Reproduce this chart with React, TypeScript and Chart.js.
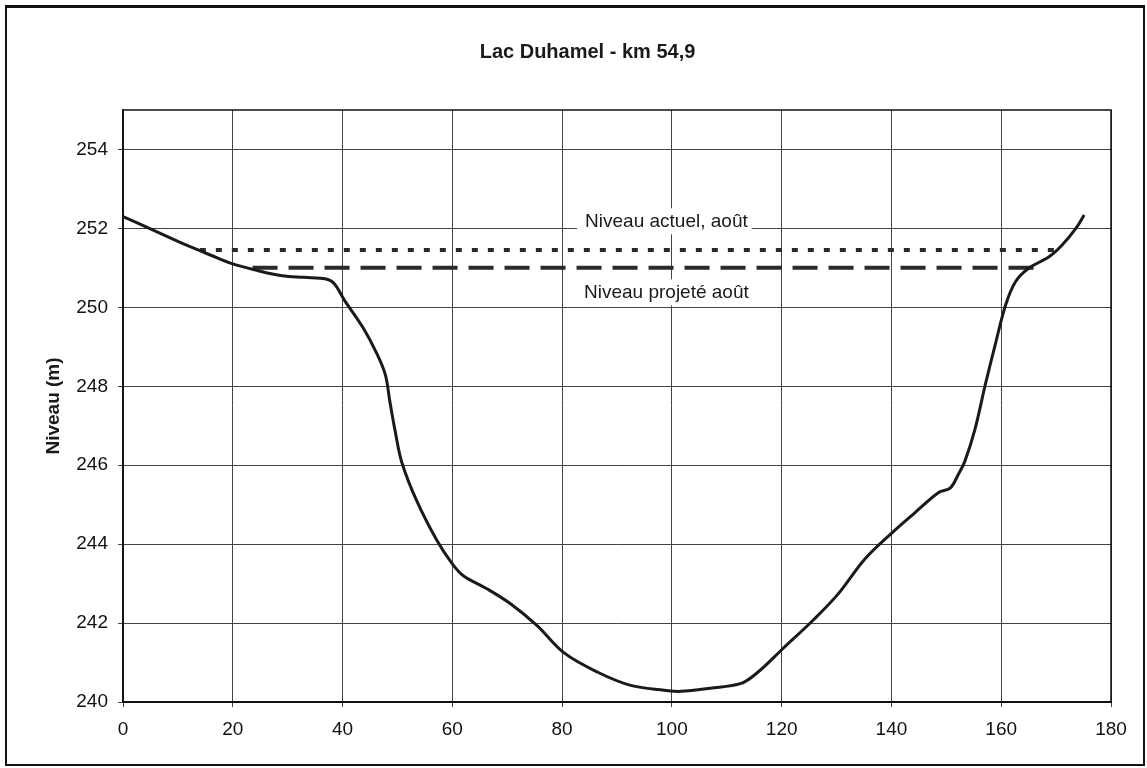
import React, { useEffect, useRef } from "react";
import { Chart, registerables } from "chart.js";

Chart.register(...registerables);

// Profile of the lake bed (distance in m, level in m)
const distance = [
  0, 5, 10, 12, 16, 20, 24, 29, 33, 37, 38.5, 40.3, 43.8, 46.2, 47.8, 48.6, 49.6,
  50.8, 53.5, 57.2, 60, 62, 66.3, 70.6, 75.4, 80.3, 86.4, 92.5, 98.6, 101.6, 107,
  112.6, 115.7, 120.2, 126, 130.3, 135.2, 140.2, 144.3, 148.6, 150.7, 152.2, 153.4,
  155.2, 157.1, 158.9, 160.8, 162.6, 165, 168.7, 171.1, 173.6, 175.1,
];
const niveau = [
  252.3, 251.99, 251.67, 251.55, 251.32, 251.1, 250.95, 250.8, 250.76, 250.72, 250.6,
  250.19, 249.47, 248.84, 248.29, 247.63, 246.85, 246.07, 245.1, 244.09, 243.5, 243.2,
  242.87, 242.49, 241.94, 241.25, 240.76, 240.42, 240.3, 240.27, 240.35, 240.47, 240.76,
  241.35, 242.11, 242.74, 243.63, 244.3, 244.8, 245.31, 245.42, 245.77, 246.11, 246.9,
  248.04, 249.05, 250.06, 250.65, 250.99, 251.28, 251.58, 252.0, 252.34,
];

// Reference levels
const actuelRange = [14, 169.6];
const actuelLevel = 251.45;
const projeteRange = [23.6, 166.5];
const projeteLevel = 251.0;

// Annotation texts and their anchor (data units)
const labelTexts = ["Niveau actuel, août", "Niveau projeté août"];
const labelX = [99, 99];
const labelY = [252.18, 250.38];

const titleText = "Lac Duhamel - km 54,9";
const yTitle = "Niveau (m)";

const FONT = '"Liberation Sans", Arial, sans-serif';

const plotFrame = {
  id: "plotFrame",
  beforeDatasetsDraw(chart: any) {
    const { ctx, chartArea } = chart;
    const { left, top, right, bottom } = chartArea;
    ctx.save();
    ctx.strokeStyle = "#111";
    ctx.lineWidth = 1.5;
    ctx.strokeRect(left, top, right - left, bottom - top);
    ctx.restore();
  },
};

const levelLabels = {
  id: "levelLabels",
  beforeDatasetsDraw(chart: any) {
    const { ctx, scales } = chart;
    const xs = scales.x;
    const ys = scales.y;
    ctx.save();
    ctx.font = `19px ${FONT}`;
    labelTexts.forEach((t, i) => {
      const cx = xs.getPixelForValue(labelX[i]);
      const cy = ys.getPixelForValue(labelY[i]);
      const w = ctx.measureText(t).width;
      ctx.fillStyle = "#fff";
      ctx.fillRect(cx - w / 2 - 8, cy - 13, w + 12, 26);
      ctx.fillStyle = "#1a1a1a";
      ctx.textAlign = "center";
      ctx.textBaseline = "middle";
      ctx.fillText(t, cx, cy);
    });
    ctx.restore();
  },
};

// Chart title, drawn slightly right of the canvas centre as in the scan
const chartTitle = {
  id: "chartTitle",
  afterDraw(chart: any) {
    const { ctx, width } = chart;
    ctx.save();
    ctx.font = `bold 20px ${FONT}`;
    ctx.fillStyle = "#1a1a1a";
    ctx.textAlign = "center";
    ctx.textBaseline = "middle";
    ctx.fillText(titleText, width / 2 + 14, 52);
    ctx.restore();
  },
};

export default function App() {
  const ref = useRef<HTMLCanvasElement | null>(null);

  useEffect(() => {
    if (!ref.current) return;
    const profile = distance.map((d, i) => ({ x: d, y: niveau[i] }));
    const actuel = actuelRange.map((d) => ({ x: d, y: actuelLevel }));
    const projete = projeteRange.map((d) => ({ x: d, y: projeteLevel }));

    const chart = new Chart(ref.current, {
      type: "line",
      data: {
        datasets: [
          {
            label: "Profil",
            data: profile,
            borderColor: "#1a1a1a",
            borderWidth: 3,
            pointRadius: 0,
            tension: 0.35,
            fill: false,
          },
          {
            label: "Niveau actuel, août",
            data: actuel,
            borderColor: "#2a2a2a",
            borderWidth: 4,
            borderDash: [6, 10],
            pointRadius: 0,
            fill: false,
          },
          {
            label: "Niveau projeté août",
            data: projete,
            borderColor: "#2a2a2a",
            borderWidth: 4,
            borderDash: [25, 11],
            pointRadius: 0,
            fill: false,
          },
        ],
      },
      options: {
        responsive: false,
        animation: false,
        layout: { padding: { left: 0, right: 36, top: 110, bottom: 0 } },
        plugins: {
          legend: { display: false },
          tooltip: { enabled: false },
          title: { display: false },
        },
        scales: {
          x: {
            type: "linear",
            min: 0,
            max: 180,
            ticks: {
              stepSize: 20,
              color: "#111",
              font: { family: FONT, size: 19 },
              padding: 11,
            },
            grid: { color: "#444", lineWidth: 1, tickLength: 5 },
            border: { color: "#111", width: 2 },
            afterFit: (s: any) => {
              s.height = 66;
            },
          },
          y: {
            type: "linear",
            min: 240,
            max: 255,
            ticks: {
              stepSize: 2,
              color: "#111",
              font: { family: FONT, size: 19 },
              padding: 10,
            },
            afterBuildTicks: (s: any) => {
              s.ticks = s.ticks.filter((t: any) => t.value % 2 === 0);
            },
            grid: { color: "#444", lineWidth: 1, tickLength: 5 },
            border: { color: "#111", width: 1.5 },
            title: {
              display: true,
              text: yTitle,
              color: "#1a1a1a",
              font: { family: FONT, size: 19, weight: "bold" },
              padding: { top: 42, bottom: 0 },
            },
            afterFit: (s: any) => {
              s.width = 123;
            },
          },
        },
      },
      plugins: [plotFrame, levelLabels, chartTitle],
    });
    return () => chart.destroy();
  }, []);

  return (
    <div
      style={{
        position: "fixed",
        left: 0,
        top: 0,
        width: 1147,
        height: 768,
        background: "#fff",
        overflow: "hidden",
      }}
    >
      <div
        style={{
          position: "absolute",
          left: 5,
          top: 5,
          width: 1140,
          height: 761,
          boxSizing: "border-box",
          borderStyle: "solid",
          borderColor: "#111",
          borderWidth: "3px 2px 2px 2px",
        }}
      />
      <canvas
        ref={ref}
        width={1147}
        height={768}
        style={{ position: "absolute", left: 0, top: 0 }}
      />
    </div>
  );
}
